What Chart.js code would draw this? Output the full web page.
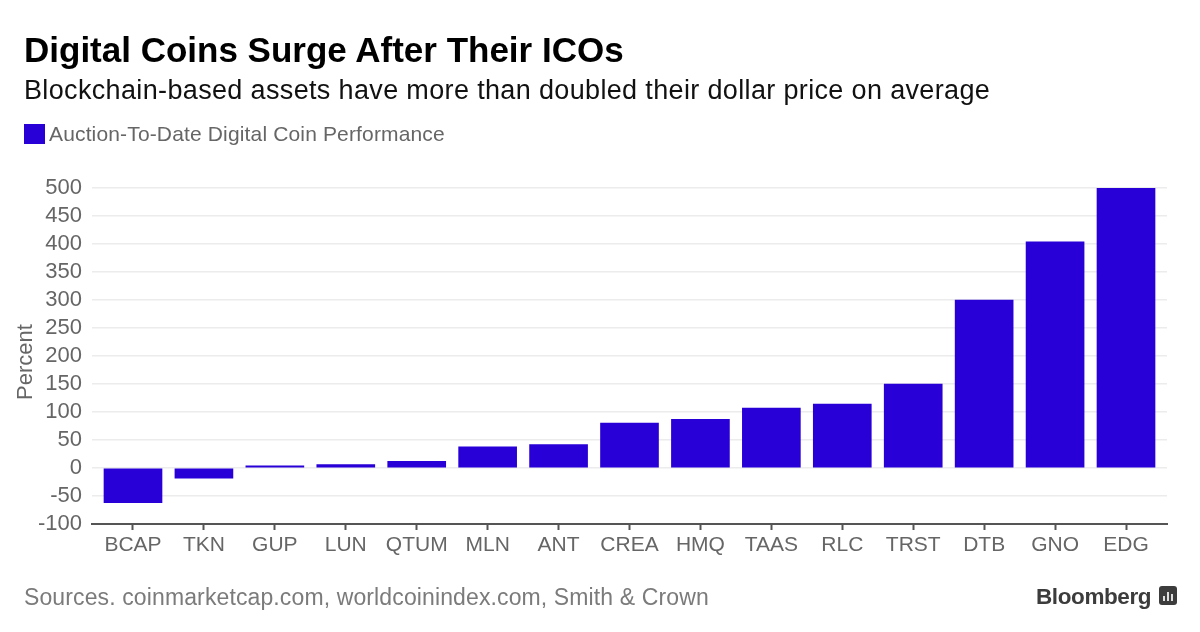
<!DOCTYPE html>
<html>
<head>
<meta charset="utf-8">
<script src="https://cdn.jsdelivr.net/npm/chart.js@4"></script>
<style>
  html, body { margin: 0; padding: 0; background: #fff; }
  body { width: 1200px; height: 632px; position: relative; overflow: hidden; font-family: "Liberation Sans", sans-serif; }
  canvas { position: absolute; left: 0; top: 0; }
  .txt { position: absolute; white-space: nowrap; }
  #title { left: 24px; top: 30px; font-size: 35px; font-weight: bold; color: #000; }
  #subtitle { left: 24px; top: 75px; font-size: 27px; letter-spacing: 0.35px; color: #111; }
  #swatch { position: absolute; left: 24px; top: 124px; width: 21px; height: 20px; background: #2800d7; }
  #legend { left: 49px; top: 122px; font-size: 21px; letter-spacing: 0.15px; color: #666; }
  #source { left: 24px; top: 584px; font-size: 23px; letter-spacing: 0.12px; color: #7b7b7b; }
  #brand { left: 1036px; top: 584px; font-size: 22.5px; font-weight: bold; color: #3c3c3c; letter-spacing: -0.4px; }
  #icon { position: absolute; left: 1159px; top: 586px; width: 18px; height: 19px; background: #3c3c3c; border-radius: 3px; }
  #icon i { position: absolute; bottom: 4px; width: 2px; background: #ddd; }
</style>
</head>
<body>
<canvas id="barChart" width="1200" height="632"></canvas>
<div class="txt" id="title">Digital Coins Surge After Their ICOs</div>
<div class="txt" id="subtitle">Blockchain-based assets have more than doubled their dollar price on average</div>
<div id="swatch"></div>
<div class="txt" id="legend">Auction-To-Date Digital Coin Performance</div>
<div class="txt" id="source">Sources. coinmarketcap.com, worldcoinindex.com, Smith &amp; Crown</div>
<div class="txt" id="brand">Bloomberg</div>
<div id="icon"><i style="left:4px;height:5px"></i><i style="left:8px;height:9px"></i><i style="left:12px;height:7px"></i></div>
<script>
const categories = ['BCAP', 'TKN', 'GUP', 'LUN', 'QTUM', 'MLN', 'ANT', 'CREA', 'HMQ', 'TAAS', 'RLC', 'TRST', 'DTB', 'GNO', 'EDG'];
const performance = [-62, -18, 4, 6, 12, 38, 42, 80, 87, 107, 114, 150, 300, 404, 500];
const yTicks = [-100, -50, 0, 50, 100, 150, 200, 250, 300, 350, 400, 450, 500];

Chart.defaults.font.family = '"Liberation Sans", sans-serif';

new Chart(document.getElementById('barChart'), {
    type: 'bar',
    data: {
        datasets: [{
            label: 'Auction-To-Date Digital Coin Performance',
            data: performance.map((v, i) => ({ x: i, y: v })),
            backgroundColor: '#2800d7',
            barThickness: 58
        }]
    },
    options: {
        responsive: false,
        animation: false,
        devicePixelRatio: 1,
        layout: { padding: { left: 0, right: 33, top: 188, bottom: 0 } },
        plugins: { legend: { display: false }, tooltip: { enabled: false } },
        scales: {
            x: {
                type: 'linear',
                offset: false,
                // axis runs a bit past the first and last bars, like the original
                min: -0.578,
                max: 14.578,
                afterBuildTicks: (axis) => { axis.ticks = categories.map((c, i) => ({ value: i })); },
                afterFit: (axis) => { axis.height = 108; },
                grid: { display: true, offset: false, drawOnChartArea: false, drawTicks: true, tickLength: 6, color: '#555', tickWidth: 2 },
                border: { display: true, color: '#555', width: 2 },
                ticks: {
                    autoSkip: false,
                    maxRotation: 0,
                    padding: 3,
                    color: '#666',
                    font: { size: 21 },
                    callback: (value) => categories[value]
                }
            },
            y: {
                min: -100,
                max: 500,
                afterBuildTicks: (axis) => { axis.ticks = yTicks.map((v) => ({ value: v })); },
                afterFit: (axis) => { axis.width = 92; },
                grid: { color: '#ececec', lineWidth: 1.5, drawTicks: false },
                border: { display: false },
                // trailing spaces nudge the rotated title down to where the original sits
                title: { display: true, text: 'Percent  ', color: '#666', font: { size: 22 }, padding: { top: 13, bottom: 0 } },
                ticks: { autoSkip: false, padding: 10, color: '#666', font: { size: 22 } }
            }
        }
    }
});
</script>
</body>
</html>
